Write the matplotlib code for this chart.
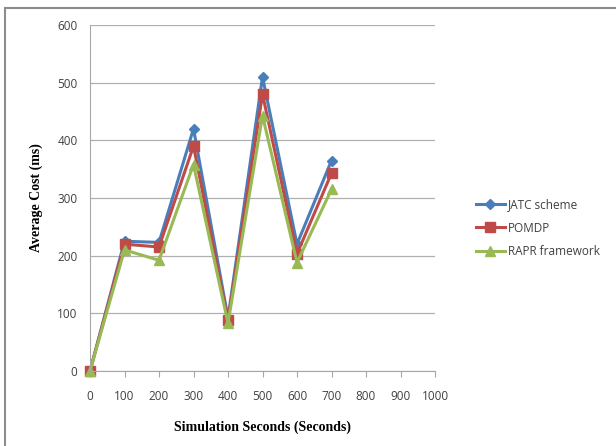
import matplotlib
matplotlib.use("Agg")
import matplotlib.pyplot as plt
from matplotlib.patches import Rectangle

x = [0, 100, 200, 300, 400, 500, 600, 700]
jatc = [0, 225, 223, 420, 92, 510, 220, 365]
pomdp = [0, 220, 215, 390, 88, 480, 203, 343]
rapr = [0, 210, 192, 358, 83, 443, 188, 315]
series_names = ["JATC scheme", "POMDP", "RAPR framework"]
xticks = list(range(0, 1001, 100))
yticks = list(range(0, 601, 100))

fig = plt.figure(figsize=(6.16, 4.46), dpi=100)
fig.patches.append(Rectangle((5/616, -0.1), 1.2, 1 - 8/446 + 0.1, transform=fig.transFigure,
                             fill=False, edgecolor="#8c8c8c", linewidth=1.5))
ax = fig.add_axes([90/616, 1 - 371/446, 345/616, 346/446])

ax.plot(x, jatc, color="#4a7ebb", marker="D", markersize=5, linewidth=2.2, label=series_names[0], clip_on=False)
ax.plot(x, pomdp, color="#be4b48", marker="s", markersize=7, linewidth=2.2, label=series_names[1], clip_on=False)
ax.plot(x, rapr, color="#98b954", marker="^", markersize=7, linewidth=2.2, label=series_names[2], clip_on=False)

ax.set_xlim(0, 1000)
ax.set_ylim(0, 600)
ax.set_xticks(xticks)
ax.set_yticks(yticks)
ax.grid(axis="y", color="#b0b0b0", linewidth=0.9)
ax.set_axisbelow(True)
for s in ["top", "right"]:
    ax.spines[s].set_visible(False)
ax.spines["left"].set_color("#a6a6a6")
ax.spines["bottom"].set_color("#a6a6a6")
ax.tick_params(axis="y", length=0, pad=9, labelsize=8.5, labelcolor="#404040")
ax.tick_params(axis="x", length=4, color="#a6a6a6", pad=10, labelsize=8.5, labelcolor="#404040")
for lab in ax.get_xticklabels() + ax.get_yticklabels():
    lab.set_fontfamily("Open Sans")

ax.set_xlabel("Simulation Seconds (Seconds)", fontfamily="Liberation Serif", fontweight="bold",
              fontsize=10, labelpad=12)
ax.set_ylabel("Average Cost (ms)", fontfamily="Liberation Serif", fontweight="bold",
              fontsize=10, labelpad=10)

leg = fig.legend(loc="center left", bbox_to_anchor=(465/616, 1 - 228/446), frameon=False,
                 prop={"family": "Open Sans", "size": 8.5}, handlelength=2.5, labelspacing=0.9,
                 handletextpad=0.2)
for t in leg.get_texts():
    t.set_color("#404040")

fig.savefig("out.png", dpi=100)
